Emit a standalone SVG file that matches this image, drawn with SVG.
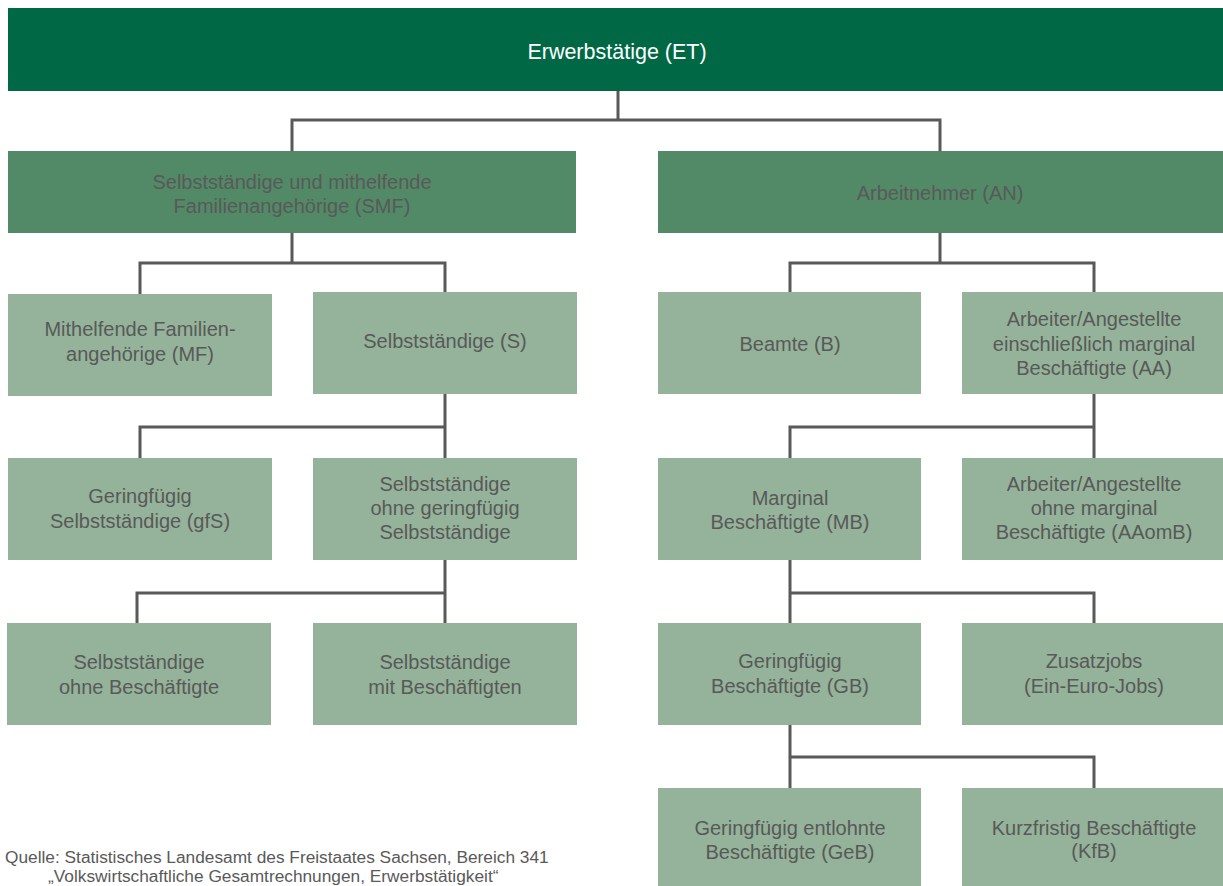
<svg xmlns="http://www.w3.org/2000/svg" width="1223" height="886" viewBox="0 0 1223 886">
<style>
.top{fill:#006845}
.mid{fill:#528a67}
.box{fill:#94b39a}
.t{font-family:"Liberation Sans",Arial,sans-serif;font-size:20px;fill:#595959;text-anchor:middle}
.tw{font-family:"Liberation Sans",Arial,sans-serif;font-size:21.5px;fill:#ffffff;text-anchor:middle}
.src{font-family:"Liberation Sans",Arial,sans-serif;font-size:17.3px;fill:#595959}
.c{fill:none;stroke:#595959;stroke-width:3}
</style>
<rect width="1223" height="886" fill="#ffffff"/>
<g id="connectors">
<path class="c" d="M618 91V120M292 152V120H940V152"/>
<path class="c" d="M292 233V263M140 294V263H445V292"/>
<path class="c" d="M940 233V263M790 292V263H1094V292"/>
<path class="c" d="M445 394V458M140 458V427H445"/>
<path class="c" d="M1094 394V458M790 458V427H1094"/>
<path class="c" d="M445 560V623M137 623V593H445"/>
<path class="c" d="M790 560V623M1094 623V593H790"/>
<path class="c" d="M790 725V788M1094 788V757H790"/>
</g>
<g id="ET"><rect class="top" x="8" y="8" width="1215" height="83"/><text class="tw" x="617" y="59">Erwerbstätige (ET)</text></g>
<g id="SMF"><rect class="mid" x="8" y="151" width="568" height="82"/><text class="t" x="292" y="189">Selbstständige und mithelfende</text><text class="t" x="292" y="213">Familienangehörige (SMF)</text></g>
<g id="AN"><rect class="mid" x="658" y="151" width="565" height="82"/><text class="t" x="940" y="200">Arbeitnehmer (AN)</text></g>
<g id="MF"><rect class="box" x="8" y="294" width="264" height="102"/><text class="t" x="140" y="336">Mithelfende Familien-</text><text class="t" x="140" y="361">angehörige (MF)</text></g>
<g id="S"><rect class="box" x="313" y="292" width="264" height="102"/><text class="t" x="445" y="348">Selbstständige (S)</text></g>
<g id="B"><rect class="box" x="658" y="292" width="263" height="102"/><text class="t" x="790" y="351">Beamte (B)</text></g>
<g id="AA"><rect class="box" x="962" y="292" width="261" height="102"/><text class="t" x="1094" y="326">Arbeiter/Angestellte</text><text class="t" x="1094" y="351">einschließlich marginal</text><text class="t" x="1094" y="375">Beschäftigte (AA)</text></g>
<g id="gfS"><rect class="box" x="8" y="458" width="264" height="102"/><text class="t" x="140" y="503">Geringfügig</text><text class="t" x="140" y="528">Selbstständige (gfS)</text></g>
<g id="SogS"><rect class="box" x="313" y="458" width="264" height="102"/><text class="t" x="445" y="491">Selbstständige</text><text class="t" x="445" y="515">ohne geringfügig</text><text class="t" x="445" y="539">Selbstständige</text></g>
<g id="MB"><rect class="box" x="658" y="458" width="263" height="102"/><text class="t" x="790" y="505">Marginal</text><text class="t" x="790" y="529">Beschäftigte (MB)</text></g>
<g id="AAomB"><rect class="box" x="962" y="458" width="261" height="102"/><text class="t" x="1094" y="491">Arbeiter/Angestellte</text><text class="t" x="1094" y="515">ohne marginal</text><text class="t" x="1094" y="539">Beschäftigte (AAomB)</text></g>
<g id="SoB"><rect class="box" x="7" y="623" width="264" height="102"/><text class="t" x="139" y="669">Selbstständige</text><text class="t" x="139" y="694">ohne Beschäftigte</text></g>
<g id="SmB"><rect class="box" x="313" y="623" width="264" height="102"/><text class="t" x="445" y="669">Selbstständige</text><text class="t" x="445" y="694">mit Beschäftigten</text></g>
<g id="GB"><rect class="box" x="658" y="623" width="263" height="102"/><text class="t" x="790" y="668">Geringfügig</text><text class="t" x="790" y="693">Beschäftigte (GB)</text></g>
<g id="ZJ"><rect class="box" x="962" y="623" width="261" height="102"/><text class="t" x="1094" y="668">Zusatzjobs</text><text class="t" x="1094" y="693">(Ein-Euro-Jobs)</text></g>
<g id="GeB"><rect class="box" x="658" y="788" width="263" height="98"/><text class="t" x="790" y="835">Geringfügig entlohnte</text><text class="t" x="790" y="859">Beschäftigte (GeB)</text></g>
<g id="KfB"><rect class="box" x="962" y="788" width="261" height="98"/><text class="t" x="1094" y="835">Kurzfristig Beschäftigte</text><text class="t" x="1094" y="858">(KfB)</text></g>
<g id="source"><text class="src" x="5" y="863">Quelle: Statistisches Landesamt des Freistaates Sachsen, Bereich 341</text><text class="src" x="48" y="882">„Volkswirtschaftliche Gesamtrechnungen, Erwerbstätigkeit“</text></g>
</svg>
